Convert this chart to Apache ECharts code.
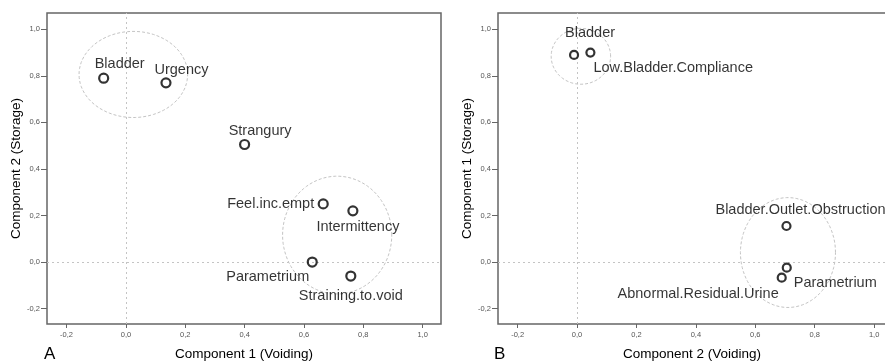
<!DOCTYPE html>
<html>
<head>
<meta charset="utf-8">
<script src="https://cdn.jsdelivr.net/npm/echarts@6/dist/echarts.min.js"></script>
<style>html,body{margin:0;padding:0;background:#fff;}#c{width:885px;height:363px;}</style>
</head>
<body>
<div id="c"></div>
<script>
// ---- data ----
const tickValues = [-0.2, 0.0, 0.2, 0.4, 0.6, 0.8, 1.0];

const namesA   = ['Bladder', 'Urgency', 'Strangury', 'Feel.inc.empt', 'Intermittency', 'Parametrium', 'Straining.to.void'];
const voidingA = [-0.075, 0.135, 0.40, 0.665, 0.765, 0.628, 0.758];
const storageA = [0.79, 0.77, 0.505, 0.25, 0.22, 0.0, -0.06];

const namesB   = ['Bladder', 'Low.Bladder.Compliance', 'Bladder.Outlet.Obstruction', 'Parametrium', 'Abnormal.Residual.Urine'];
const voidingB = [-0.01, 0.045, 0.705, 0.706, 0.689];
const storageB = [0.89, 0.90, 0.155, -0.024, -0.067];

// cluster ellipses (centre x, centre y, radius x, radius y) in data units
const clusterCxA = [0.025, 0.712];
const clusterCyA = [0.806, 0.116];
const clusterRxA = [0.183, 0.184];
const clusterRyA = [0.185, 0.253];

const clusterCxB = [0.013, 0.71];
const clusterCyB = [0.884, 0.041];
const clusterRxB = [0.10, 0.16];
const clusterRyB = [0.12, 0.236];

// ---- styling (label placement) ----
const labelStyleA = [[16,-14,'center'],[15.5,-13,'center'],[15.5,-14,'center'],[-9,0,'right'],[5,16,'center'],[-3,15,'right'],[0,20,'center']];
const labelStyleB = [[16,-22,'center'],[3,15,'left'],[-71,-16,'left'],[7,15,'left'],[-3,16,'right']];

const FONT = '"Liberation Sans", Arial, sans-serif';
const fmt = v => (Math.round(v*10)/10).toFixed(1).replace('.', ',');

function pointData(names, xs, ys, styles) {
  return names.map((n, i) => ({
    name: n,
    value: [xs[i], ys[i]],
    label: { offset: [styles[i][0], styles[i][1]], align: styles[i][2] }
  }));
}
function ellipseData(cx, cy, rx, ry) {
  return cx.map((c, i) => [c, cy[i], rx[i], ry[i]]);
}
function renderEllipse(params, api) {
  const cx = api.value(0), cy = api.value(1), rx = api.value(2), ry = api.value(3);
  const pts = [];
  for (let i = 0; i <= 90; i++) {
    const t = i / 90 * 2 * Math.PI;
    pts.push(api.coord([cx + rx * Math.cos(t), cy + ry * Math.sin(t)]));
  }
  return { type: 'polyline', shape: { points: pts }, silent: true,
    style: { fill: 'none', stroke: '#c4c4c4', lineWidth: 1, lineDash: [3, 2] } };
}

function xAxisCfg(gi, name, max) {
  return {
    type: 'value', gridIndex: gi, min: -0.266, max: max,
    name: name, nameLocation: 'middle', nameGap: 23,
    nameTextStyle: { fontFamily: FONT, fontSize: 13.5, color: '#000' },
    axisLine: { show: false, onZero: false },
    axisTick: { show: true, length: 4, customValues: tickValues, lineStyle: { color: '#666' } },
    axisLabel: { customValues: tickValues, formatter: fmt, fontFamily: FONT, fontSize: 7.5, color: '#555', margin: 7 },
    splitLine: { show: false }
  };
}
function yAxisCfg(gi, name) {
  return {
    type: 'value', gridIndex: gi, min: -0.266, max: 1.07,
    name: name, nameLocation: 'middle', nameGap: 24, nameRotate: 90,
    nameTextStyle: { fontFamily: FONT, fontSize: 13.5, color: '#000' },
    axisLine: { show: false, onZero: false },
    axisTick: { show: true, length: 6, customValues: tickValues, lineStyle: { color: '#666' } },
    axisLabel: { customValues: tickValues, formatter: fmt, fontFamily: FONT, fontSize: 7.5, color: '#555', margin: 7 },
    splitLine: { show: false }
  };
}
const refLines = {
  silent: true, symbol: 'none', label: { show: false },
  lineStyle: { type: [2, 3], color: '#c4c4c4', width: 1 },
  emphasis: { disabled: true },
  data: [{ xAxis: 0 }, { yAxis: 0 }]
};
function scatterCfg(gi, data, size) {
  return {
    type: 'scatter', xAxisIndex: gi, yAxisIndex: gi, data: data,
    symbol: 'circle', symbolSize: size, z: 5,
    itemStyle: { color: 'rgba(255,255,255,0)', borderColor: '#000', borderWidth: 2.2 },
    label: { show: true, position: 'inside', formatter: p => p.name, verticalAlign: 'middle',
      fontFamily: FONT, fontSize: 14.5, color: '#000' },
    emphasis: { disabled: true },
    markLine: refLines
  };
}

const chart = echarts.init(document.getElementById('c'), null, { renderer: 'canvas' });
chart.setOption({
  animation: false,
  backgroundColor: '#fff',
  grid: [
    { left: 47, top: 13, width: 394, height: 311, show: true, borderColor: '#666', borderWidth: 1.5,
      backgroundColor: 'transparent', outerBoundsMode: 'none', containLabel: false },
    { left: 498, top: 13, width: 388, height: 311, show: true, borderColor: '#666', borderWidth: 1.5,
      backgroundColor: 'transparent', outerBoundsMode: 'none', containLabel: false }
  ],
  xAxis: [ xAxisCfg(0, 'Component 1 (Voiding)', 1.062), xAxisCfg(1, 'Component 2 (Voiding)', 1.04) ],
  yAxis: [ yAxisCfg(0, 'Component 2 (Storage)'), yAxisCfg(1, 'Component 1 (Storage)') ],
  graphic: [
    { type: 'text', left: 44, top: 346, style: { text: 'A', font: '17px ' + FONT, fill: '#000' } },
    { type: 'text', left: 494, top: 346, style: { text: 'B', font: '17px ' + FONT, fill: '#000' } }
  ],
  series: [
    { type: 'custom', xAxisIndex: 0, yAxisIndex: 0, renderItem: renderEllipse,
      data: ellipseData(clusterCxA, clusterCyA, clusterRxA, clusterRyA), encode: { x: 0, y: 1 }, silent: true, z: 1 },
    { type: 'custom', xAxisIndex: 1, yAxisIndex: 1, renderItem: renderEllipse,
      data: ellipseData(clusterCxB, clusterCyB, clusterRxB, clusterRyB), encode: { x: 0, y: 1 }, silent: true, z: 1 },
    scatterCfg(0, pointData(namesA, voidingA, storageA, labelStyleA), 9),
    scatterCfg(1, pointData(namesB, voidingB, storageB, labelStyleB), 8)
  ]
});
</script>
</body>
</html>
